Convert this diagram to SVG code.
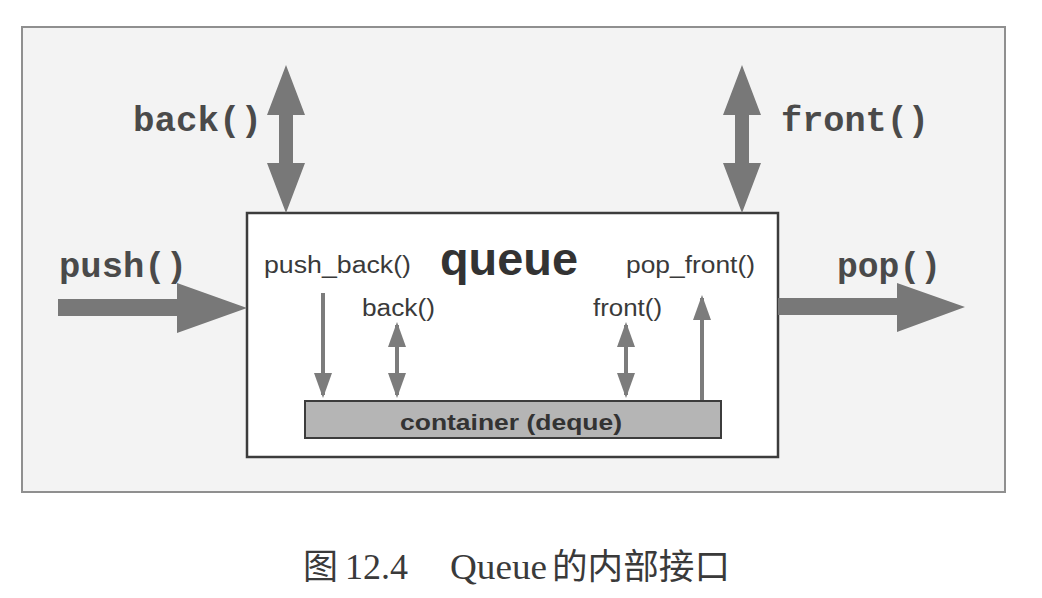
<svg xmlns="http://www.w3.org/2000/svg" width="1042" height="598" viewBox="0 0 1042 598">
  <defs>
    <style>
      .mono { font-family: "Liberation Mono", "Courier New", monospace; font-weight: bold; font-size: 35px; fill: #4a4a4a; }
      .sans { font-family: "Liberation Sans", Arial, sans-serif; font-size: 23px; fill: #3a3a3a; }
      .big { fill: #787878; }
      .thin { stroke: #7c7c7c; stroke-width: 4; fill: none; }
      .cap { font-family: "Liberation Serif", "Noto Sans CJK SC", serif; font-size: 35px; fill: #3a3a3a; }
    </style>
    <marker id="ih" viewBox="0 0 25 18" markerWidth="25" markerHeight="18" refX="22" refY="9" orient="auto-start-reverse" markerUnits="userSpaceOnUse">
      <path d="M0,0 L25,9 L0,18 Z" fill="#7c7c7c"/>
    </marker>
  </defs>
  <rect width="1042" height="598" fill="#ffffff"/>
  <g id="frame">
    <rect x="22" y="27" width="983" height="465" fill="#f3f3f3" stroke="#8f8f8f" stroke-width="2"/>
  </g>
  <g id="queue">
    <rect x="247" y="213" width="531" height="244" fill="#ffffff" stroke="#3c3c3c" stroke-width="2.5"/>
    <text x="440" y="275" font-family="Liberation Sans, Arial, sans-serif" font-weight="bold" font-size="46" fill="#333" textLength="138" lengthAdjust="spacingAndGlyphs">queue</text>
  </g>
  <g id="container">
    <rect x="305" y="401" width="416" height="37" fill="#b5b5b5" stroke="#3c3c3c" stroke-width="2"/>
    <text x="400" y="430" font-family="Liberation Sans, Arial, sans-serif" font-weight="bold" font-size="22" fill="#333" textLength="222" lengthAdjust="spacingAndGlyphs">container (deque)</text>
  </g>
  <g id="labels">
    <text class="mono" x="133" y="131" textLength="129" lengthAdjust="spacingAndGlyphs">back()</text>
    <text class="mono" x="781" y="131" textLength="148" lengthAdjust="spacingAndGlyphs">front()</text>
    <text class="mono" x="59" y="277" textLength="128" lengthAdjust="spacingAndGlyphs">push()</text>
    <text class="mono" x="837" y="277" textLength="104" lengthAdjust="spacingAndGlyphs">pop()</text>
    <text class="sans" x="264" y="273" textLength="147" lengthAdjust="spacingAndGlyphs">push_back()</text>
    <text class="sans" x="626" y="273" textLength="129" lengthAdjust="spacingAndGlyphs">pop_front()</text>
    <text class="sans" x="362" y="316" textLength="73" lengthAdjust="spacingAndGlyphs">back()</text>
    <text class="sans" x="593" y="316" textLength="69" lengthAdjust="spacingAndGlyphs">front()</text>
  </g>
  <g id="connectors">
    <polygon class="big" points="286,65 305,115 293,115 293,163 305,163 286,213 267,163 279,163 279,115 267,115"/>
    <polygon class="big" points="742,65 761,115 749,115 749,163 761,163 742,213 723,163 735,163 735,115 723,115"/>
    <polygon class="big" points="58,299 177,299 177,283 247,308 177,333 177,316 58,316"/>
    <polygon class="big" points="778,298 897,298 897,283 965,307 897,332 897,315 778,315"/>
    <line class="thin" x1="323" y1="293" x2="323" y2="395" marker-end="url(#ih)"/>
    <line class="thin" x1="397" y1="325" x2="397" y2="395" stroke-width="5" marker-start="url(#ih)" marker-end="url(#ih)"/>
    <line class="thin" x1="626" y1="325" x2="626" y2="395" stroke-width="5" marker-start="url(#ih)" marker-end="url(#ih)"/>
    <line class="thin" x1="702" y1="400" x2="702" y2="298" marker-end="url(#ih)"/>
  </g>
  <g id="caption">
    <text class="cap" x="303" y="579" font-size="33">图</text>
    <text class="cap" x="345" y="579" textLength="63" lengthAdjust="spacingAndGlyphs">12.4</text>
    <text class="cap" x="450" y="579" textLength="97" lengthAdjust="spacingAndGlyphs">Queue</text>
    <text class="cap" x="552" y="579" textLength="178" lengthAdjust="spacingAndGlyphs">的内部接口</text>
  </g>
</svg>
